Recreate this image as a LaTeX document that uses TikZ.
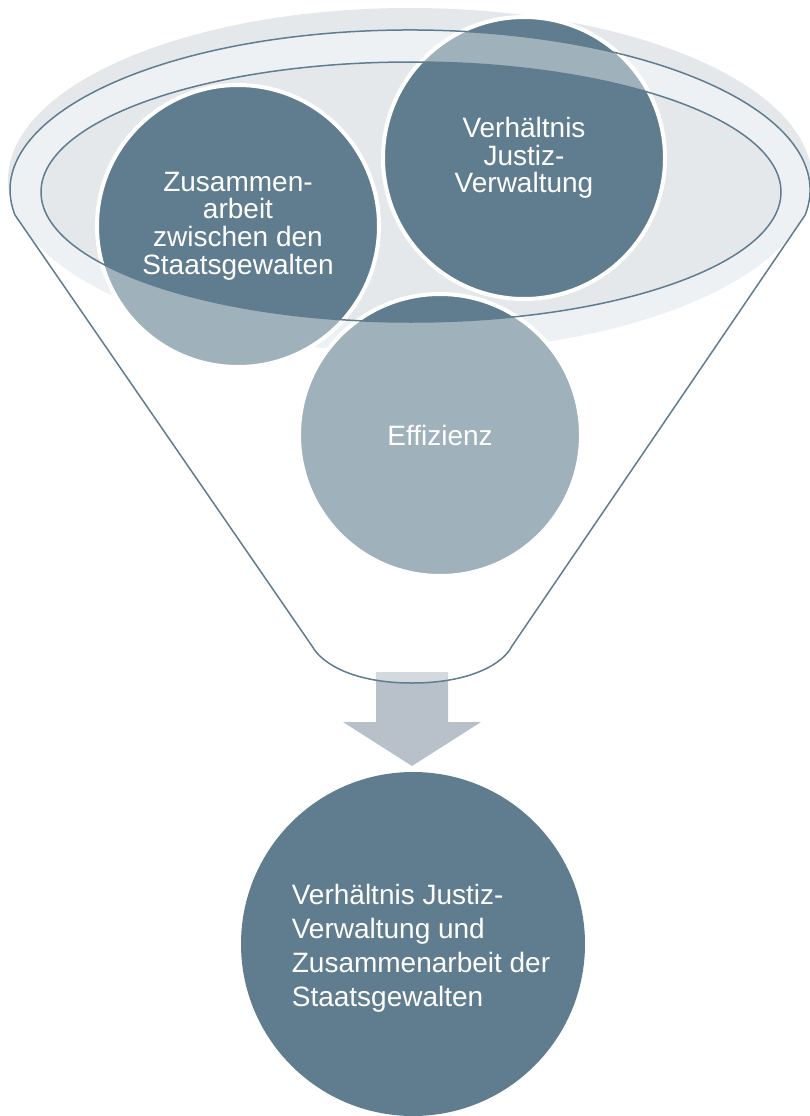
\documentclass[tikz,border=0pt]{standalone}
\usepackage{fontspec}
\setmainfont{Liberation Sans}
\usetikzlibrary{positioning}

\definecolor{slate}{HTML}{5F7D8F}
\definecolor{mist}{HTML}{E4E8EB}
\definecolor{pebble}{HTML}{B8C1C9}

\tikzset{
    topic/.style={circle, draw=white, line width=4pt, fill=slate, text=white,
        inner sep=0pt, minimum size=282pt, align=center,
        font=\fontsize{28}{27.7}\selectfont},
    result/.style={circle, fill=slate, inner sep=0pt, minimum size=344pt},
    resulttext/.style={text=white, inner sep=0pt, align=left,
        font=\fontsize{28}{34}\selectfont},
    rim/.style={draw=slate, line width=1.5pt, fill=white, fill opacity=0.4,
        even odd rule}
}

\begin{document}
\begin{tikzpicture}[x=1pt, y=-1pt]
        \useasboundingbox (0,0) rectangle (809,1116);

        % light top of the funnel
        \fill[mist] (410,180) ellipse [x radius=402, y radius=172];

        \node[topic] (zusammen)   at (238,226) {Zusammen-\\arbeit\\zwischen den\\Staatsgewalten};
        \node[topic] (verhaeltnis) at (524,158) {Verh\"altnis\\Justiz-\\Verwaltung};
        \node[topic] (effizienz)  at (440,435) {Effizienz};

        % block arrow
        \fill[pebble] (376,672) -- (448,672) -- (448,722) -- (481,722)
                      -- (412,766) -- (343,722) -- (376,722) -- cycle;

        % funnel body and opening
        \filldraw[rim] (15,215) arc [start angle=171, end angle=369, x radius=400, y radius=160]
                -- (512,646) .. controls (503,664) and (470,683) .. (412,683)
                .. controls (354,683) and (322,664) .. (312,646) -- cycle
                (411,192) ellipse [x radius=370, y radius=130];

        \node[result] (ergebnis) at (413,944) {};
        \node[resulttext] (ergebnistext) at ([shift={(8,4)}]ergebnis.center)
                {Verh\"altnis Justiz-\\Verwaltung und\\Zusammenarbeit der\\Staatsgewalten};
        %\draw[help lines] (0,0) grid[step=100] (809,1116);
    \end{tikzpicture}
\end{document}
